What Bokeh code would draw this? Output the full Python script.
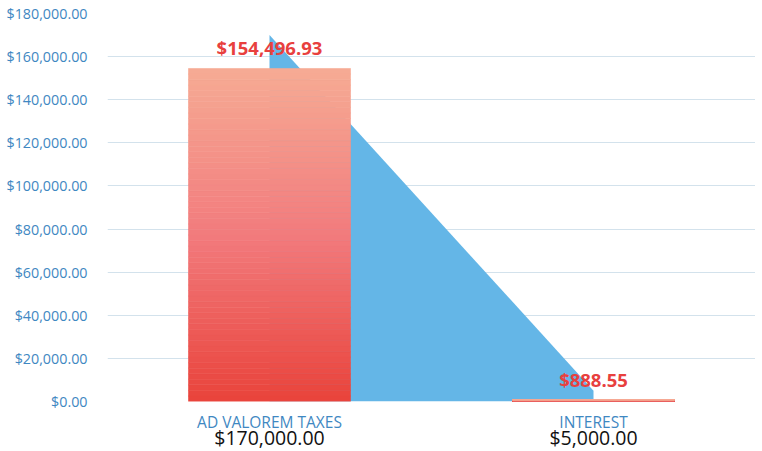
from bokeh.plotting import figure
from bokeh.models import FactorRange, NumeralTickFormatter, SingleIntervalTicker, CategoricalAxis, Range1d
from bokeh.core.properties import value
from bokeh.embed import file_html
from bokeh.resources import INLINE

# ---- data ----
categories = ["AD VALOREM TAXES", "INTEREST"]
actual = [154496.93, 888.55]
budget = [170000.00, 5000.00]
y_max = 180000
y_step = 20000

FONT = "Open Sans"
BLUE_TXT = "#3f88c2"
RED_TXT = "#e8403e"

budget_labels = ["${:,.2f}".format(b) for b in budget]

p = figure(x_range=FactorRange(*categories, range_padding=0),
           y_range=Range1d(0, y_max),
           frame_width=648, frame_height=388,
           min_border_left=107, min_border_right=0, min_border_top=13, min_border_bottom=40,
           output_backend="svg", toolbar_location=None)
p.extra_x_ranges = {"budget": FactorRange(*budget_labels, range_padding=0)}
p.outline_line_color = None
p.background_fill_color = "white"
p.border_fill_color = "white"

# budget area (behind)
p.varea(x=categories, y1=[0] * len(categories), y2=budget, fill_color="#64b6e7")

# gradient bars for actuals
stops = [(0.0, (0xe9, 0x43, 0x3b)), (0.5, (0xf2, 0x7b, 0x7d)), (1.0, (0xf6, 0xab, 0x94))]
def grad(f):
    for (f0, c0), (f1, c1) in zip(stops[:-1], stops[1:]):
        if f <= f1:
            t = (f - f0) / (f1 - f0)
            return "#%02x%02x%02x" % tuple(int(round(a + (b - a) * t)) for a, b in zip(c0, c1))
    return "#%02x%02x%02x" % stops[-1][1]

N = 60
xs, bots, tops, cols = [], [], [], []
for c, v in zip(categories, actual):
    for i in range(N):
        xs.append(c)
        bots.append(v * i / N)
        tops.append(v * (i + 1) / N)
        cols.append(grad((i + 0.5) / N))
p.vbar(x=xs, bottom=bots, top=tops, width=0.5, fill_color=cols, line_color=cols, line_width=0.6)

# data labels
p.text(x=categories, y=actual, text=["${:,.2f}".format(v) for v in actual],
       text_align="center", text_baseline="bottom", y_offset=-8,
       text_font=value(FONT), text_font_size="18.5px", text_font_style="bold", text_color=RED_TXT)

# y axis
p.yaxis.ticker = SingleIntervalTicker(interval=y_step)
p.yaxis.formatter = NumeralTickFormatter(format="$0,0.00")
p.yaxis.axis_line_color = None
p.yaxis.major_tick_line_color = None
p.yaxis.minor_tick_line_color = None
p.yaxis.major_tick_out = 0
p.yaxis.major_tick_in = 0
p.yaxis.major_label_standoff = 16
p.yaxis.major_label_text_font = FONT
p.yaxis.major_label_text_font_size = "14.3px"
p.yaxis.major_label_text_color = BLUE_TXT

p.ygrid.grid_line_color = "#d3e2ec"
p.xgrid.grid_line_color = None

# x axis: category names
xa = p.xaxis[0]
xa.axis_line_color = None
xa.major_tick_line_color = None
xa.major_tick_out = 0
xa.major_tick_in = 0
xa.major_label_standoff = 9
xa.major_label_text_font = FONT
xa.major_label_text_font_size = "15.5px"
xa.major_label_text_color = BLUE_TXT

# second x axis: budget values
xb = CategoricalAxis(x_range_name="budget")
xb.axis_line_color = None
xb.major_tick_line_color = None
xb.major_tick_out = 0
xb.major_tick_in = 0
xb.major_label_standoff = -12
xb.major_label_text_font = FONT
xb.major_label_text_font_size = "19.5px"
xb.major_label_text_color = "#111111"
p.add_layout(xb, "below")

open("out.html", "w").write(file_html(p, INLINE))
